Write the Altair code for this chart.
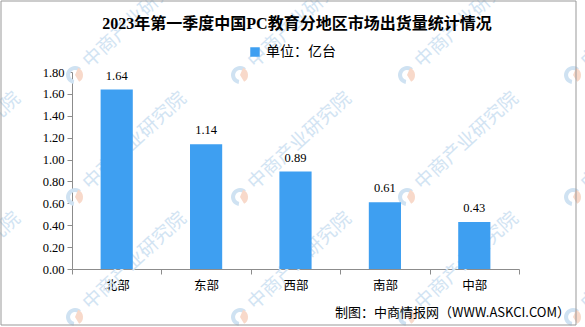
import altair as alt
import pandas as pd

# ---- data ----
regions = ["北部", "东部", "西部", "南部", "中部"]
values = [1.64, 1.14, 0.89, 0.61, 0.43]
value_labels = ["1.64", "1.14", "0.89", "0.61", "0.43"]
series_name = "单位：亿台"
title_text = "2023年第一季度中国PC教育分地区市场出货量统计情况"
footer_text = "制图：中商情报网（WWW.ASKCI.COM）"
y_ticks = [0.0, 0.2, 0.4, 0.6, 0.8, 1.0, 1.2, 1.4, 1.6, 1.8]
watermark_text = "中商产业研究院"
wm_cols = [-163, 3, 168, 335, 501]
wm_rows = [3, 125, 245]

BLUE = "#3e9ff1"
GRAY = "#8c8c8c"
CJK = "Noto Sans CJK SC"
NUM = "Liberation Serif"

W, H = 447, 197
PAD_L, PAD_T = 72, 72

df = pd.DataFrame({"region": regions, "value": values, "label": value_labels,
                   "series": [series_name] * len(regions)})

wm = pd.DataFrame([{"px": c, "py": r, "tx": c + 11, "ty": r - 11, "t": watermark_text}
                   for c in wm_cols for r in wm_rows])

x_enc = alt.X("region:N", sort=regions,
              scale=alt.Scale(paddingInner=0, paddingOuter=0),
              axis=alt.Axis(title=None, labelAngle=0, tickBand="extent",
                            domainColor=GRAY, tickColor=GRAY, tickSize=5,
                            labelFont=CJK, labelFontSize=12.5, labelColor="#000000",
                            labelPadding=5))
y_enc = alt.Y("value:Q",
              scale=alt.Scale(domain=[0, 1.8], nice=False),
              axis=alt.Axis(title=None, values=y_ticks, format=".2f", grid=False,
                            domainColor=GRAY, tickColor=GRAY, tickSize=5,
                            labelFont=NUM, labelFontSize=12.5, labelColor="#000000",
                            labelPadding=3))

# watermark logos and text (decoration)
wm_ring = alt.Chart(wm).mark_arc(innerRadius=5, outerRadius=9, color="#cfe2f2").encode(
    x=alt.X("px:Q", scale=None), y=alt.Y("py:Q", scale=None),
    theta=alt.value(3.3), theta2=alt.value(7.0))
wm_dot = alt.Chart(wm).mark_arc(innerRadius=0, outerRadius=8, color="#f8d9ca").encode(
    x=alt.X("px:Q", scale=None), y=alt.Y("py:Q", scale=None),
    theta=alt.value(0.4), theta2=alt.value(2.6))
wm_txt = alt.Chart(wm).mark_text(align="left", baseline="middle", angle=317,
                                 font=CJK, fontSize=19,
                                 color="#d2e4f3").encode(
    x=alt.X("tx:Q", scale=None), y=alt.Y("ty:Q", scale=None), text="t:N")

bars = alt.Chart(df).mark_bar(width=alt.RelativeBandSize(0.36)).encode(
    x=x_enc, y=y_enc,
    color=alt.Color("series:N", scale=alt.Scale(range=[BLUE]),
                    legend=alt.Legend(title=None, orient="none", legendX=176, legendY=-27,
                                      symbolType="square", symbolSize=90,
                                      symbolStrokeWidth=0, labelFont=CJK,
                                      labelFontSize=14, labelColor="#000000")))

labels = alt.Chart(df).mark_text(dy=-14, font=NUM, fontSize=12.5, color="#000000").encode(
    x=x_enc, y=y_enc, text="label:N")

title = alt.Chart(pd.DataFrame({"t": [title_text]})).mark_text(
    align="center", baseline="middle", font=NUM + ", " + CJK, fontSize=16,
    fontWeight="bold", color="#000000").encode(
    x=alt.value(225), y=alt.value(-48), text="t:N")

footer = alt.Chart(pd.DataFrame({"t": [footer_text]})).mark_text(
    align="right", baseline="middle", font=CJK, fontSize=13, color="#000000").encode(
    x=alt.value(498), y=alt.value(241), text="t:N")

border = alt.Chart(pd.DataFrame({"a": [0]})).mark_rect(
    filled=False, stroke="#999999", strokeWidth=1).encode(
    x=alt.value(-71), x2=alt.value(504), y=alt.value(-71), y2=alt.value(253))

chart = alt.layer(wm_ring, wm_dot, wm_txt, bars, labels, title, footer, border).properties(
    width=W, height=H,
    autosize=alt.AutoSizeParams(type="none"),
    padding={"left": PAD_L, "top": PAD_T, "right": 585 - PAD_L - W,
             "bottom": 327 - PAD_T - H},
    background="#ffffff",
).configure_view(stroke=None)

chart.save("out.html", embed_options={"renderer": "svg", "actions": False})
